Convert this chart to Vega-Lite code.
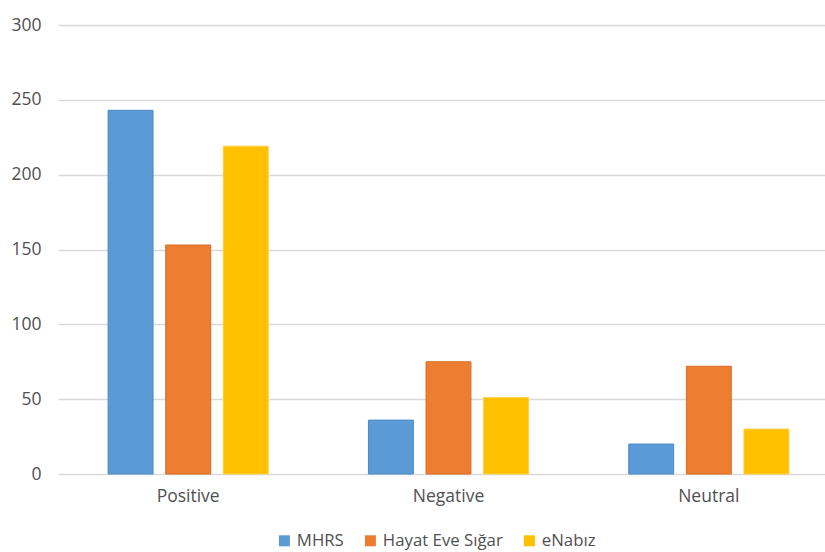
{
  "$schema": "https://vega.github.io/schema/vega-lite/v6.json",
  "width": 781,
  "height": 449,
  "autosize": "none",
  "padding": {"left": 58, "top": 25, "right": 0, "bottom": 78},
  "background": "white",
  "config": {
    "font": "Open Sans",
    "view": {"stroke": null}
  },
  "data": {
    "values": [
      {"sentiment": "Positive", "app": "MHRS", "count": 243},
      {"sentiment": "Positive", "app": "Hayat Eve Sığar", "count": 153},
      {"sentiment": "Positive", "app": "eNabız", "count": 219},
      {"sentiment": "Negative", "app": "MHRS", "count": 36},
      {"sentiment": "Negative", "app": "Hayat Eve Sığar", "count": 75},
      {"sentiment": "Negative", "app": "eNabız", "count": 51},
      {"sentiment": "Neutral", "app": "MHRS", "count": 20},
      {"sentiment": "Neutral", "app": "Hayat Eve Sığar", "count": 72},
      {"sentiment": "Neutral", "app": "eNabız", "count": 30}
    ]
  },
  "mark": {"type": "bar", "strokeWidth": 1},
  "encoding": {
    "x": {
      "field": "sentiment",
      "type": "nominal",
      "sort": ["Positive", "Negative", "Neutral"],
      "scale": {"paddingInner": 0.385, "paddingOuter": 0.1925},
      "axis": {
        "title": null,
        "labelAngle": 0,
        "domain": false,
        "ticks": false,
        "labelPadding": 13,
        "labelFontSize": 17.5,
        "labelColor": "#505050",
        "labelFont": "Open Sans"
      }
    },
    "xOffset": {
      "field": "app",
      "type": "nominal",
      "sort": ["MHRS", "Hayat Eve Sığar", "eNabız"],
      "scale": {"paddingInner": 0.22, "paddingOuter": 0}
    },
    "y": {
      "field": "count",
      "type": "quantitative",
      "scale": {"domain": [0, 300]},
      "axis": {
        "title": null,
        "values": [0, 50, 100, 150, 200, 250, 300],
        "domain": false,
        "ticks": false,
        "labelPadding": 17,
        "labelFontSize": 17.5,
        "labelColor": "#505050",
        "labelFont": "Open Sans",
        "gridColor": "#d9d9d9",
        "gridWidth": 1.5
      }
    },
    "color": {
      "field": "app",
      "type": "nominal",
      "sort": ["MHRS", "Hayat Eve Sığar", "eNabız"],
      "scale": {
        "domain": ["MHRS", "Hayat Eve Sığar", "eNabız"],
        "range": ["#5B9BD5", "#ED7D31", "#FFC000"]
      },
      "legend": {
        "title": null,
        "orient": "none",
        "direction": "horizontal",
        "legendX": 218,
        "legendY": 507,
        "symbolType": "square",
        "symbolSize": 121,
        "symbolStrokeWidth": 0,
        "labelFontSize": 16.8,
        "labelColor": "#505050",
        "labelFont": "Open Sans",
        "labelOffset": 4,
        "columnPadding": 18
      }
    },
    "stroke": {
      "field": "app",
      "type": "nominal",
      "scale": {
        "domain": ["MHRS", "Hayat Eve Sığar", "eNabız"],
        "range": ["#4A89C8", "#D96C22", "#FFCF40"]
      },
      "legend": null
    }
  }
}
